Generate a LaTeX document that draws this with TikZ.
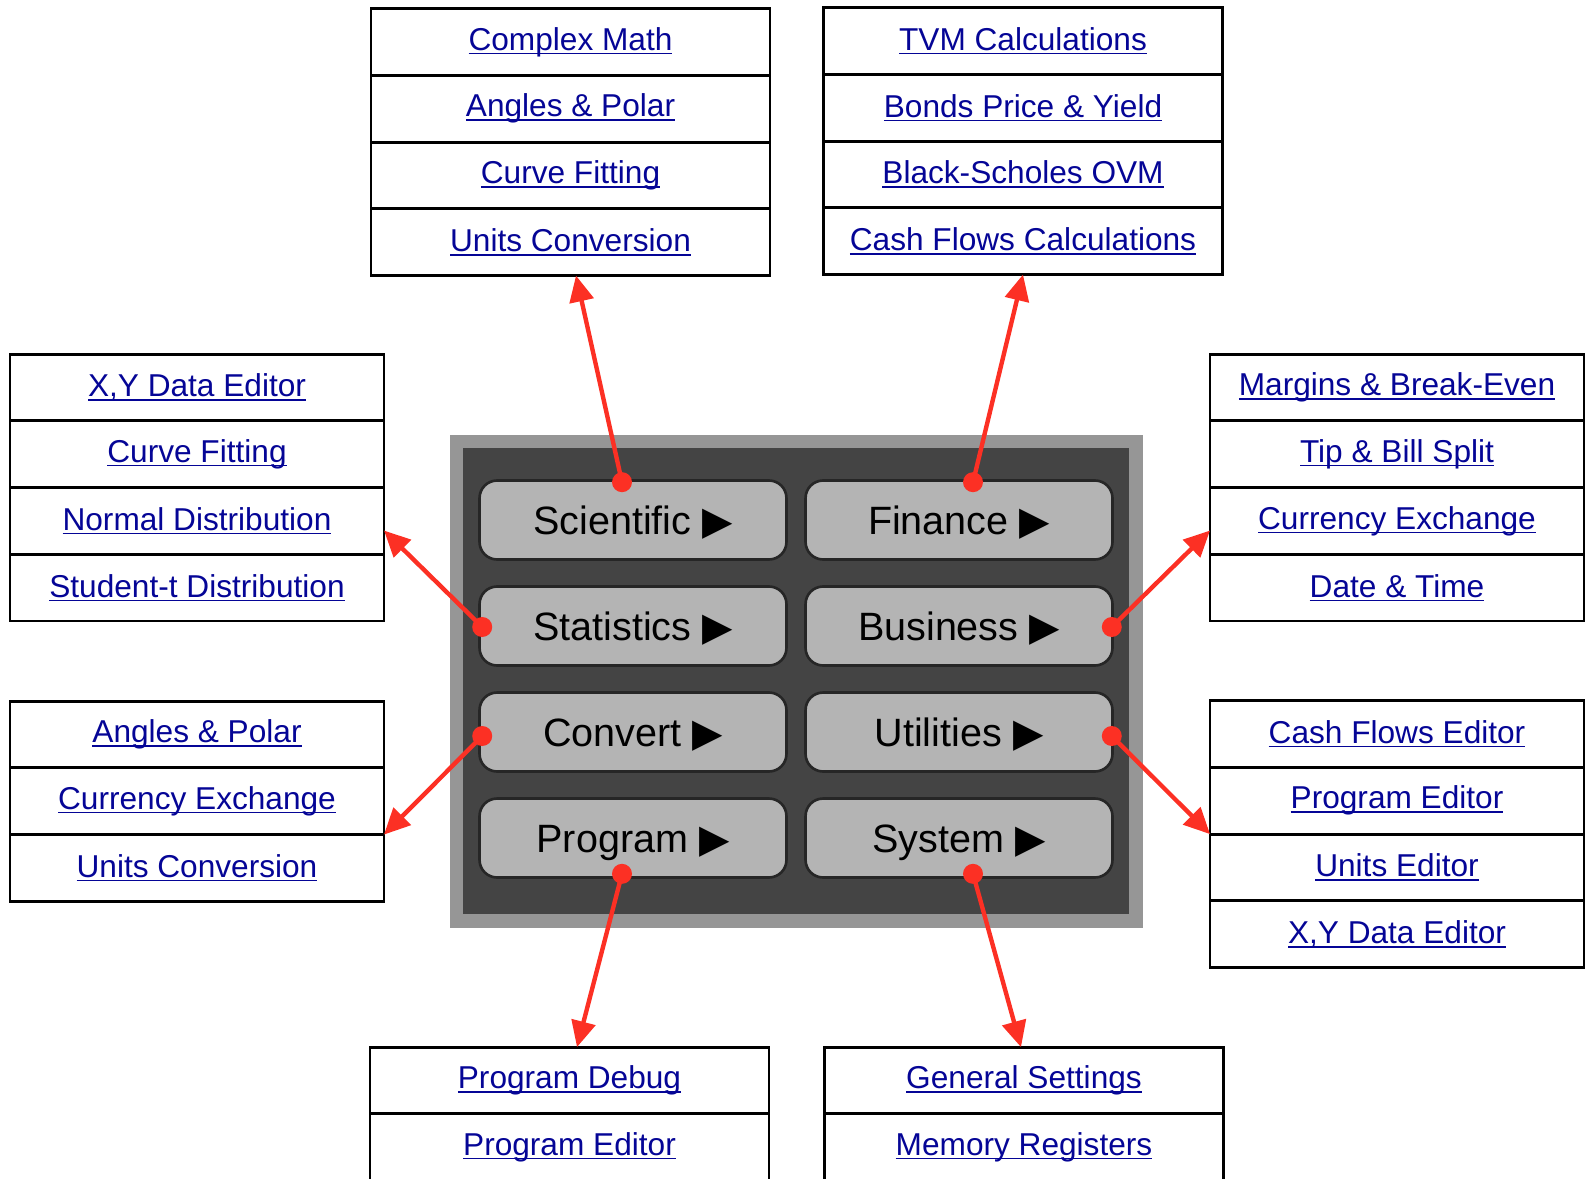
\documentclass[tikz,border=0pt]{standalone}
\usepackage{fontspec}
\setmainfont{Liberation Sans}
\newfontfamily\symfont{DejaVu Sans}
\usetikzlibrary{positioning,calc,arrows.meta}
\definecolor{linkblue}{RGB}{5,5,150}
\definecolor{hotred}{RGB}{252,48,36}
\definecolor{paneledge}{RGB}{150,150,150}
\definecolor{paneldark}{RGB}{68,68,68}
\definecolor{btngray}{RGB}{180,180,180}
\newcommand{\lnk}[1]{\setbox0\hbox{#1}\rlap{\rule[-2.3pt]{\wd0}{0.9pt}}\box0}
\newcommand{\play}{~{\symfont\char"25B6}}
\tikzset{
 cell/.style={draw=black, line width=1.6pt, minimum height=1.335cm, inner sep=0pt,
   outer sep=0pt, text=linkblue, font=\fontsize{18}{21}\selectfont},
 wide/.style={cell, minimum width=7.98cm},
 narrow/.style={cell, minimum width=7.48cm},
 btn/.style={draw=black!85, fill=btngray, line width=1.5pt, rounded corners=10pt,
   minimum width=6.14cm, minimum height=1.58cm, text height=16pt, text depth=0pt,
   font=\fontsize{22.5}{26}\selectfont},
 hot/.style={circle, fill=hotred, inner sep=0pt, minimum size=0.4cm},
 link/.style={draw=hotred, line width=2.5pt, -{Triangle[length=0.52cm, width=0.48cm]}},
}

\begin{document}
\begin{tikzpicture}[x=0.02cm, y=-0.02cm]
    \useasboundingbox (0,0) rectangle (1585,1179);
    \clip (0,0) rectangle (1585,1179);

    % keypad panel
    \fill[paneledge] (450,435) rectangle (1143,928);
    \fill[paneldark] (463,448) rectangle (1129,914);

    \node[btn] (sci) at (633,520) {Scientific\play};
    \node[btn] (fin) at (959,520) {Finance\play};
    \node[btn] (sta) at (633,626) {Statistics\play};
    \node[btn] (bus) at (959,626) {Business\play};
    \node[btn] (cnv) at (633,732) {Convert\play};
    \node[btn] (utl) at (959,732) {Utilities\play};
    \node[btn] (prg) at (633,838) {Program\play};
    \node[btn] (sys) at (959,838) {System\play};

    % menus
    \node[wide] (sm1) at (570.5,42) {\lnk{Complex Math}};
    \node[wide, below=0pt of sm1] (sm2) {\lnk{Angles \& Polar}};
    \node[wide, below=0pt of sm2] (sm3) {\lnk{Curve Fitting}};
    \node[wide, below=0pt of sm3] (sm4) {\lnk{Units Conversion}};

    \node[wide] (fm1) at (1023,41) {\lnk{TVM Calculations}};
    \node[wide, below=0pt of fm1] (fm2) {\lnk{Bonds Price \& Yield}};
    \node[wide, below=0pt of fm2] (fm3) {\lnk{Black-Scholes OVM}};
    \node[wide, below=0pt of fm3] (fm4) {\lnk{Cash Flows Calculations}};

    \node[narrow] (tm1) at (197,387.5) {\lnk{X,Y Data Editor}};
    \node[narrow, below=0pt of tm1] (tm2) {\lnk{Curve Fitting}};
    \node[narrow, below=0pt of tm2] (tm3) {\lnk{Normal Distribution}};
    \node[narrow, below=0pt of tm3] (tm4) {\lnk{Student-t Distribution}};

    \node[narrow] (bm1) at (1397,387.5) {\lnk{Margins \& Break-Even}};
    \node[narrow, below=0pt of bm1] (bm2) {\lnk{Tip \& Bill Split}};
    \node[narrow, below=0pt of bm2] (bm3) {\lnk{Currency Exchange}};
    \node[narrow, below=0pt of bm3] (bm4) {\lnk{Date \& Time}};

    \node[narrow] (cm1) at (197,734.5) {\lnk{Angles \& Polar}};
    \node[narrow, below=0pt of cm1] (cm2) {\lnk{Currency Exchange}};
    \node[narrow, below=0pt of cm2] (cm3) {\lnk{Units Conversion}};

    \node[narrow] (um1) at (1397,734) {\lnk{Cash Flows Editor}};
    \node[narrow, below=0pt of um1] (um2) {\lnk{Program Editor}};
    \node[narrow, below=0pt of um2] (um3) {\lnk{Units Editor}};
    \node[narrow, below=0pt of um3] (um4) {\lnk{X,Y Data Editor}};

    \node[wide] (pm1) at (569.5,1080.5) {\lnk{Program Debug}};
    \node[wide, below=0pt of pm1] (pm2) {\lnk{Program Editor}};

    \node[wide] (ym1) at (1024,1080.5) {\lnk{General Settings}};
    \node[wide, below=0pt of ym1] (ym2) {\lnk{Memory Registers}};

    % hot spots and arrows
    \node[hot] (dsci) at ($(sci.north)+(-11,3)$) {};
    \node[hot] (dfin) at ($(fin.north)+(14,3)$) {};
    \node[hot] (dsta) at ($(sta.west)+(4,1)$) {};
    \node[hot] (dbus) at ($(bus.east)+(-2,1)$) {};
    \node[hot] (dcnv) at ($(cnv.west)+(4,4)$) {};
    \node[hot] (dutl) at ($(utl.east)+(-2,4)$) {};
    \node[hot] (dprg) at ($(prg.south)+(-11,-5)$) {};
    \node[hot] (dsys) at ($(sys.south)+(14,-5)$) {};

    \draw[link] (dsci.center) -- ($(sm4.south)+(5.5,0)$);
    \draw[link] (dfin.center) -- (fm4.south);
    \draw[link] (dsta.center) -- ($(tm3.east)+(0,9.5)$);
    \draw[link] (dbus.center) -- ($(bm3.west)+(0,9.5)$);
    \draw[link] (dcnv.center) -- (cm2.south east);
    \draw[link] (dutl.center) -- (um2.south west);
    \draw[link] (dprg.center) -- ($(pm1.north)+(7.5,0)$);
    \draw[link] (dsys.center) -- ($(ym1.north)+(-3,0)$);
\end{tikzpicture}
\end{document}
